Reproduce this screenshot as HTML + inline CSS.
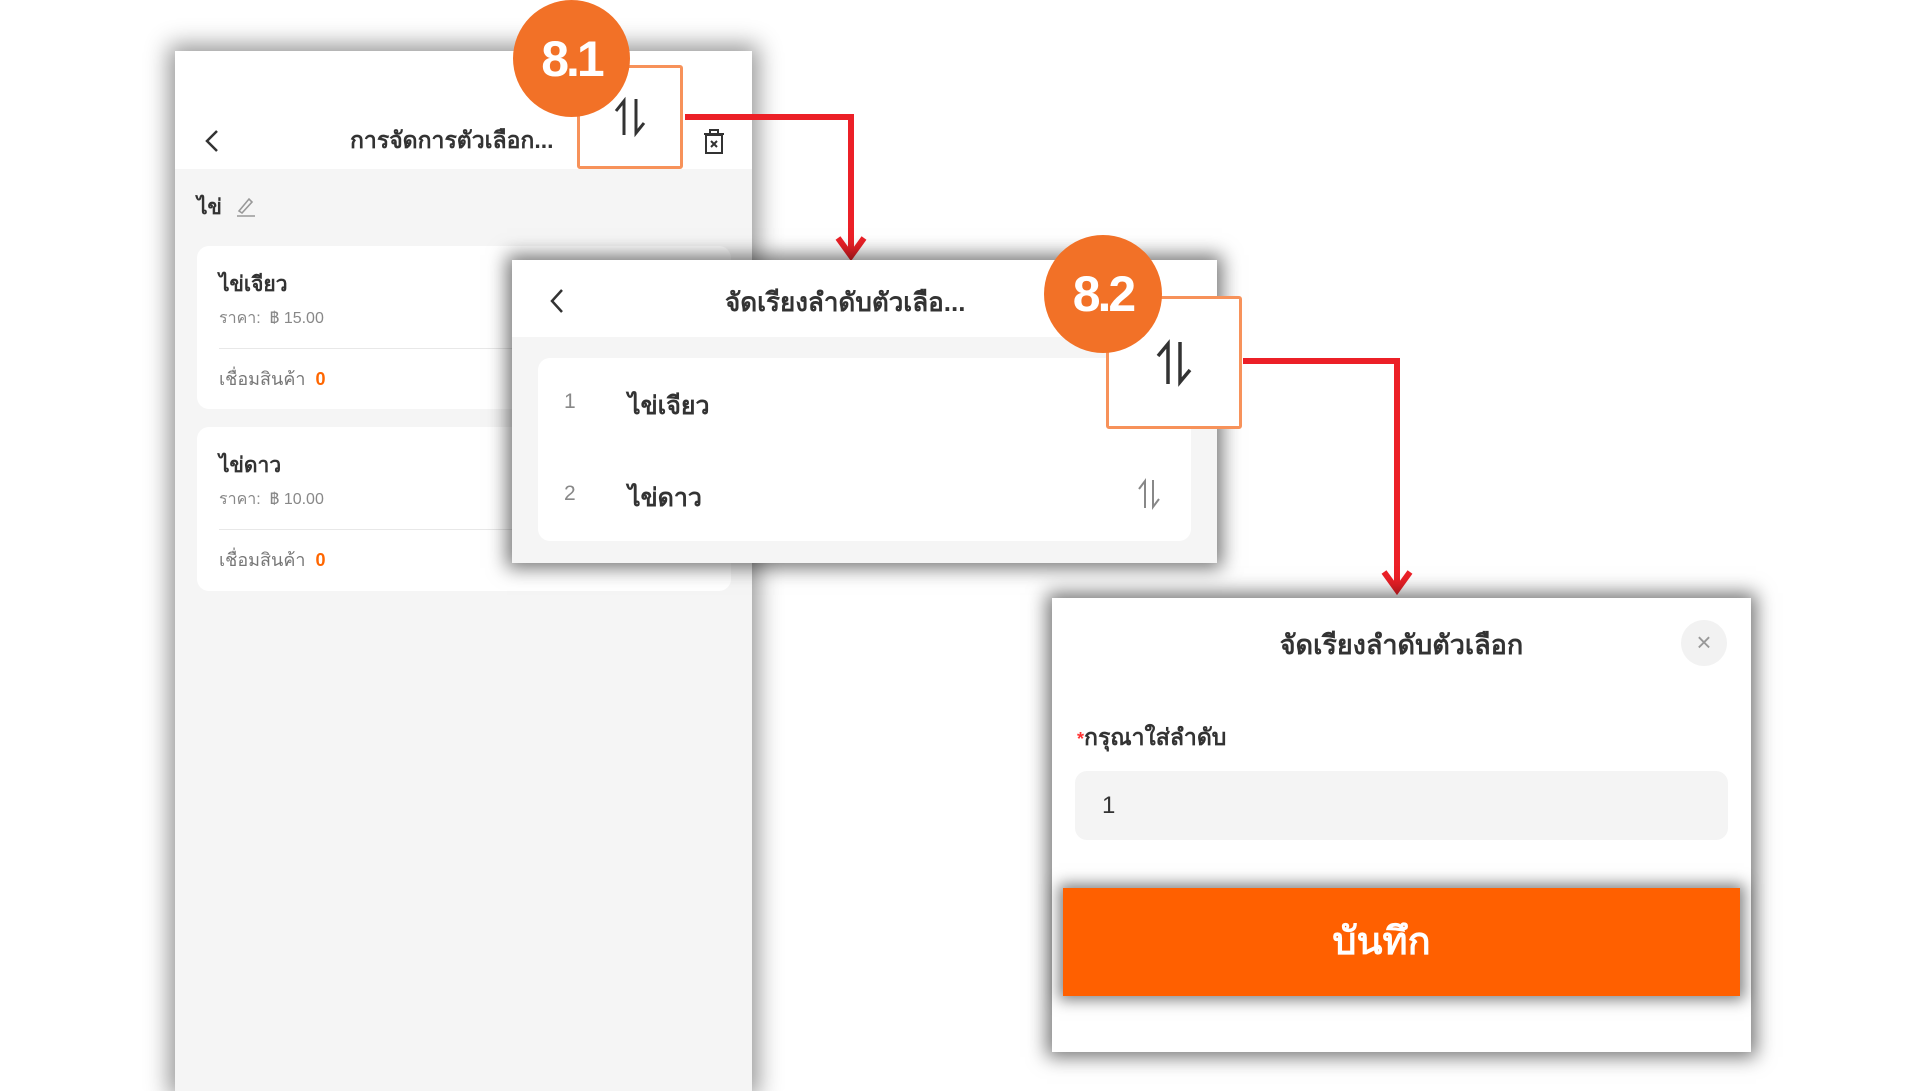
<!DOCTYPE html>
<html><head><meta charset="utf-8"><style>
*{margin:0;padding:0;box-sizing:border-box}
body{width:1920px;height:1080px;background:#fff;position:relative;overflow:hidden;font-family:"Liberation Sans","Noto Sans CJK SC",sans-serif;color:#222}
.abs{position:absolute}
.p1{left:175px;top:51px;width:577px;height:1040px;background:#f5f5f5;box-shadow:0 0 22px 6px rgba(0,0,0,.42)}
.hdr{position:absolute;left:0;top:0;width:100%;background:#fff}
.card{position:absolute;background:#fff;border-radius:12px}
.p2{left:512px;top:260px;width:705px;height:303px;background:#f5f5f5;box-shadow:0 0 18px 5px rgba(0,0,0,.55)}
.p3{left:1052px;top:598px;width:699px;height:454px;background:#fff;box-shadow:0 0 18px 5px rgba(0,0,0,.55)}
.circ{position:absolute;border-radius:50%;background:#f27127;color:#fff;font-weight:bold;font-size:50px;display:flex;align-items:center;justify-content:center;letter-spacing:-3px}
.hl{position:absolute;border:3px solid #f7925a;background:#fff;border-radius:3px;display:flex;align-items:center;justify-content:center}
</style></head><body>

<div class="abs p1">
  <div class="hdr" style="height:118px">
    <svg class="abs" style="left:28px;top:78px" width="18" height="24"><polyline points="14,2 4,12 14,22" fill="none" stroke="#333" stroke-width="2.5"/></svg>
    <div class="abs" style="left:175px;top:72px;font-size:23px;font-weight:bold;color:#333">การจัดการตัวเลือก...</div>
    <svg class="abs" style="left:528px;top:78px" width="22" height="26"><rect x="3" y="6" width="16" height="18" fill="none" stroke="#333" stroke-width="2"/><line x1="1" y1="5" x2="21" y2="5" stroke="#333" stroke-width="2"/><rect x="7" y="1" width="8" height="4" fill="none" stroke="#333" stroke-width="2"/><path d="M8 12l6 6M14 12l-6 6" stroke="#333" stroke-width="2"/></svg>
  </div>
  <div class="abs" style="left:22px;top:140px;font-size:21px;font-weight:bold;color:#333">ไข่</div>
  <svg class="abs" style="left:60px;top:144px" width="22" height="22"><path d="M4 16 L14 4 L17 7 L7 18 Z" fill="none" stroke="#999" stroke-width="1.6"/><line x1="2" y1="21" x2="20" y2="21" stroke="#999" stroke-width="1.6"/></svg>
  <div class="card" style="left:22px;top:195px;width:534px;height:163px">
    <div class="abs" style="left:22px;top:22px;font-size:21px;font-weight:bold;color:#333">ไข่เจียว</div>
    <div class="abs" style="left:22px;top:60px;font-size:16px;color:#888">ราคา:&nbsp; ฿ 15.00</div>
    <div class="abs" style="left:22px;top:102px;width:500px;border-top:1px solid #e8e8e8"></div>
    <div class="abs" style="left:22px;top:118px;font-size:18px;color:#777">เชื่อมสินค้า &nbsp;<b style="color:#f60">0</b></div>
  </div>
  <div class="card" style="left:22px;top:376px;width:534px;height:164px">
    <div class="abs" style="left:22px;top:22px;font-size:21px;font-weight:bold;color:#333">ไข่ดาว</div>
    <div class="abs" style="left:22px;top:60px;font-size:16px;color:#888">ราคา:&nbsp; ฿ 10.00</div>
    <div class="abs" style="left:22px;top:102px;width:500px;border-top:1px solid #e8e8e8"></div>
    <div class="abs" style="left:22px;top:118px;font-size:18px;color:#777">เชื่อมสินค้า &nbsp;<b style="color:#f60">0</b></div>
  </div>
</div>

<div class="hl" style="left:577px;top:65px;width:106px;height:104px">
  <svg width="40" height="44"><path d="M14 40V6L6 16" fill="none" stroke="#333" stroke-width="3"/><path d="M26 4V38L34 28" fill="none" stroke="#333" stroke-width="3"/></svg>
</div>
<div class="circ" style="left:513px;top:0px;width:117px;height:117px">8.1</div>

<svg class="abs" style="left:0;top:0" width="1920" height="1080">
  <polyline points="685,117 851,117 851,252" fill="none" stroke="#ec2027" stroke-width="6"/>
  <polyline points="838,238 851,256 864,238" fill="none" stroke="#ec2027" stroke-width="6"/>
  <polyline points="1243,361 1397,361 1397,586" fill="none" stroke="#ec2027" stroke-width="6"/>
  <polyline points="1384,572 1397,590 1410,572" fill="none" stroke="#ec2027" stroke-width="6"/>
</svg>

<div class="abs p2">
  <div class="hdr" style="height:77px">
    <svg class="abs" style="left:36px;top:28px" width="18" height="26"><polyline points="14,2 4,13 14,24" fill="none" stroke="#333" stroke-width="2.5"/></svg>
    <div class="abs" style="left:213px;top:22px;font-size:26px;font-weight:bold;color:#333">จัดเรียงลำดับตัวเลือ...</div>
  </div>
  <div class="card" style="left:26px;top:98px;width:653px;height:183px">
    <div class="abs" style="left:26px;top:32px;font-size:21px;color:#888">1</div>
    <div class="abs" style="left:90px;top:28px;font-size:25px;font-weight:bold;color:#333">ไข่เจียว</div>
    <div class="abs" style="left:26px;top:124px;font-size:21px;color:#888">2</div>
    <div class="abs" style="left:90px;top:120px;font-size:25px;font-weight:bold;color:#333">ไข่ดาว</div>
    <svg class="abs" style="left:598px;top:120px" width="26" height="32"><path d="M9 30V3L3 11" fill="none" stroke="#888" stroke-width="2"/><path d="M17 2V29L23 21" fill="none" stroke="#888" stroke-width="2"/></svg>
  </div>
</div>

<div class="hl" style="left:1106px;top:296px;width:136px;height:133px">
  <svg width="44" height="50"><path d="M16 46V6L6 18" fill="none" stroke="#333" stroke-width="3.5"/><path d="M28 4V44L38 32" fill="none" stroke="#333" stroke-width="3.5"/></svg>
</div>
<div class="circ" style="left:1044px;top:235px;width:118px;height:118px">8.2</div>

<div class="abs p3">
  <div class="abs" style="left:0;width:100%;top:25px;text-align:center;font-size:27px;font-weight:bold;color:#333">จัดเรียงลำดับตัวเลือก</div>
  <div class="abs" style="left:629px;top:22px;width:46px;height:46px;border-radius:50%;background:#f2f2f2;color:#999;font-size:26px;text-align:center;line-height:44px">×</div>
  <div class="abs" style="left:25px;top:122px;font-size:23px;font-weight:bold;color:#333"><span style="color:#f33;font-size:18px">*</span>กรุณาใส่ลำดับ</div>
  <div class="abs" style="left:23px;top:173px;width:653px;height:69px;background:#f4f4f4;border-radius:12px"></div>
  <div class="abs" style="left:50px;top:194px;font-size:24px;color:#333">1</div>
  <div class="abs" style="left:11px;top:290px;width:677px;height:108px;background:#ff6000;box-shadow:0 0 14px 4px rgba(0,0,0,.5);color:#fff;font-size:38px;font-weight:bold;text-align:center;line-height:108px;padding-right:40px">บันทึก</div>
</div>

</body></html>
